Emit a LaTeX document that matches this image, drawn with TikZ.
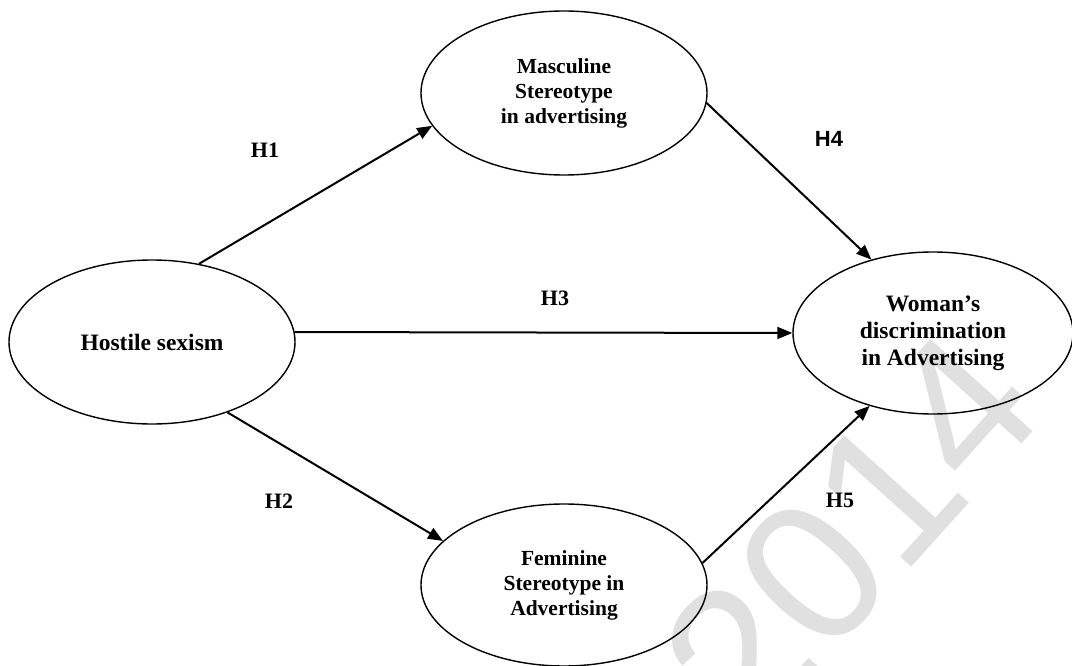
\documentclass[tikz,border=0pt]{standalone}
\usepackage{fontspec}
\setmainfont{Liberation Serif}
\newfontfamily\sansf{Liberation Sans}
\usetikzlibrary{shapes.geometric,arrows.meta}
\begin{document}
\begin{tikzpicture}[x=1pt,y=-1pt,
  oval/.style={ellipse, draw, line width=1.4pt, inner sep=0pt, align=center, font=\bfseries},
  bigtxt/.style={font=\bfseries\fontsize{23.5}{27}\selectfont},
  smalltxt/.style={font=\bfseries\fontsize{21.5}{25}\selectfont},
  link/.style={line width=2pt, -{Triangle[length=15pt,width=12pt]}},
  hlabel/.style={font=\bfseries\fontsize{22}{24}\selectfont},
  wmark/.style={text=black!12, font=\sansf\fontsize{200}{200}\selectfont}
]
\useasboundingbox (0,0) rectangle (1072,666);
\fill[white] (0,0) rectangle (1072,666);
% watermark
\node[wmark, rotate=48] (wm) at (850,532) {2014};
% ellipses
\node[oval, bigtxt, minimum width=286pt, minimum height=164pt] (hs) at (152,342) {Hostile sexism};
\node[oval, smalltxt, minimum width=286pt, minimum height=164pt] (ms) at (564,93) {Masculine\\Stereotype\\in advertising};
\node[oval, bigtxt, minimum width=280pt, minimum height=162pt] (ws) at (933,333) {Woman’s\\discrimination\\in Advertising};
\node[oval, smalltxt, minimum width=286pt, minimum height=162pt] (fs) at (564,585) {Feminine\\Stereotype in\\Advertising};
% connectors
\draw[link] (hs.59) -- (ms.194);
\draw[link] (hs.-43) -- (fs.160);
\draw[link] (hs.4) -- (ws.west);
\draw[link] (ms.-4) -- (ws.130);
\draw[link] (fs.9) -- (ws.229);
% labels
\node[hlabel] (h1) at (265,150) {H1};
\node[hlabel] (h2) at (279,501) {H2};
\node[hlabel] (h3) at (555,298) {H3};
\node[hlabel, font=\sansf\bfseries\fontsize{22}{24}\selectfont] (h4) at (829,139) {H4};
\node[hlabel] (h5) at (840,500) {H5};
\end{tikzpicture}
\end{document}
